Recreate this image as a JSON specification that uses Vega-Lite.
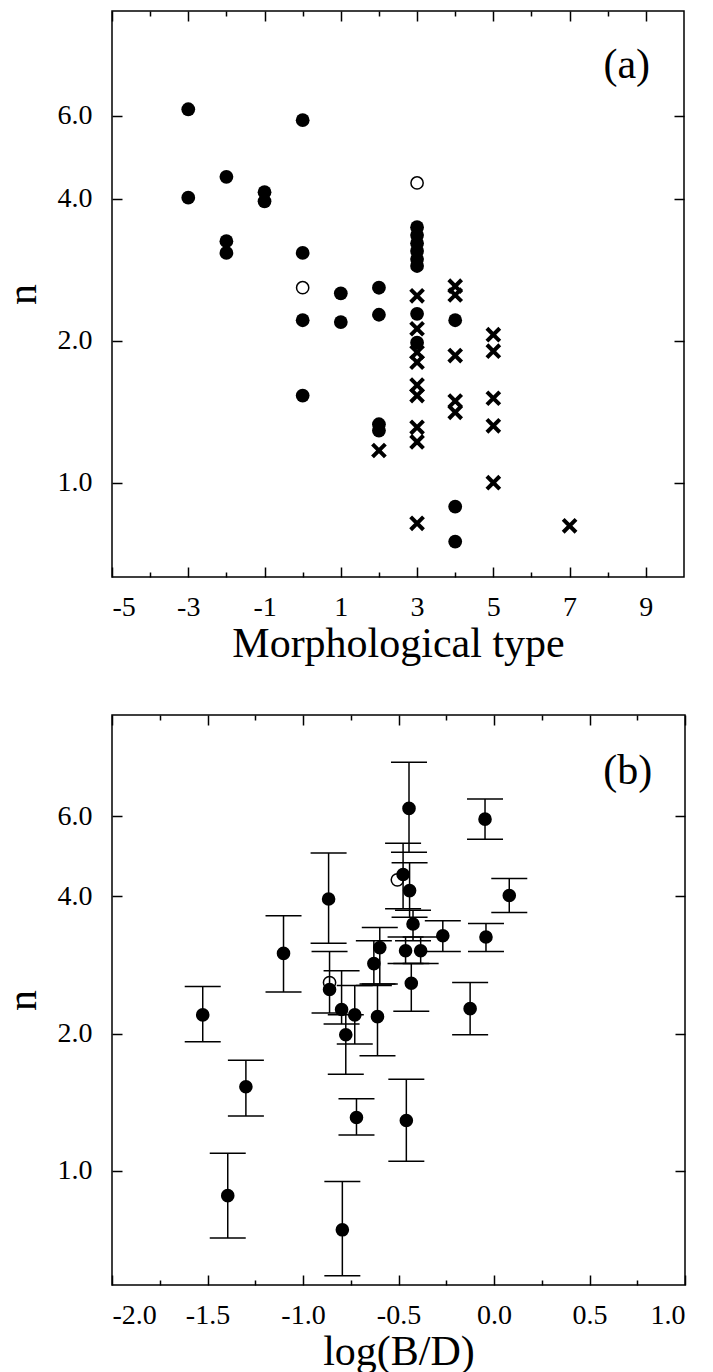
{
  "$schema": "https://vega.github.io/schema/vega-lite/v6.json",
  "padding": {"left": 0, "top": 9, "right": 5, "bottom": 0},
  "spacing": 48,
  "config": {
    "font": "Liberation Serif",
    "view": {"stroke": "black", "strokeWidth": 1.5},
    "locale": {"number": {"decimal": ".", "thousands": ",", "grouping": [3], "currency": ["$", ""], "minus": "-"}},
    "axis": {
      "domain": false,
      "grid": false,
      "tickColor": "black",
      "tickWidth": 1.5,
      "labelColor": "black",
      "labelFont": "Liberation Serif",
      "labelFontSize": 28,
      "titleFont": "Liberation Serif",
      "titleFontSize": 42,
      "titleFontWeight": "normal",
      "titleColor": "black"
    }
  },
  "datasets": {
    "a": [
      {"type": -3, "n": 6.19, "kind": "filled"},
      {"type": -3, "n": 4.02, "kind": "filled"},
      {"type": -2, "n": 4.45, "kind": "filled"},
      {"type": -2, "n": 3.25, "kind": "filled"},
      {"type": -2, "n": 3.07, "kind": "filled"},
      {"type": -1, "n": 4.13, "kind": "filled"},
      {"type": -1, "n": 3.95, "kind": "filled"},
      {"type": 0, "n": 5.87, "kind": "filled"},
      {"type": 0, "n": 3.07, "kind": "filled"},
      {"type": 0, "n": 2.21, "kind": "filled"},
      {"type": 0, "n": 1.53, "kind": "filled"},
      {"type": 1, "n": 2.52, "kind": "filled"},
      {"type": 1, "n": 2.19, "kind": "filled"},
      {"type": 2, "n": 2.59, "kind": "filled"},
      {"type": 2, "n": 2.27, "kind": "filled"},
      {"type": 2, "n": 1.33, "kind": "filled"},
      {"type": 2, "n": 1.29, "kind": "filled"},
      {"type": 3, "n": 3.48, "kind": "filled"},
      {"type": 3, "n": 3.35, "kind": "filled"},
      {"type": 3, "n": 3.22, "kind": "filled"},
      {"type": 3, "n": 3.10, "kind": "filled"},
      {"type": 3, "n": 2.98, "kind": "filled"},
      {"type": 3, "n": 2.88, "kind": "filled"},
      {"type": 3, "n": 2.28, "kind": "filled"},
      {"type": 3, "n": 1.98, "kind": "filled"},
      {"type": 4, "n": 2.21, "kind": "filled"},
      {"type": 4, "n": 0.89, "kind": "filled"},
      {"type": 4, "n": 0.75, "kind": "filled"},
      {"type": 0, "n": 2.59, "kind": "open"},
      {"type": 3, "n": 4.32, "kind": "open"},
      {"type": 2, "n": 1.17, "kind": "cross"},
      {"type": 3, "n": 2.49, "kind": "cross"},
      {"type": 3, "n": 2.12, "kind": "cross"},
      {"type": 3, "n": 1.89, "kind": "cross"},
      {"type": 3, "n": 1.80, "kind": "cross"},
      {"type": 3, "n": 1.61, "kind": "cross"},
      {"type": 3, "n": 1.53, "kind": "cross"},
      {"type": 3, "n": 1.31, "kind": "cross"},
      {"type": 3, "n": 1.22, "kind": "cross"},
      {"type": 3, "n": 0.82, "kind": "cross"},
      {"type": 4, "n": 2.61, "kind": "cross"},
      {"type": 4, "n": 2.50, "kind": "cross"},
      {"type": 4, "n": 1.86, "kind": "cross"},
      {"type": 4, "n": 1.49, "kind": "cross"},
      {"type": 4, "n": 1.41, "kind": "cross"},
      {"type": 5, "n": 2.06, "kind": "cross"},
      {"type": 5, "n": 1.90, "kind": "cross"},
      {"type": 5, "n": 1.51, "kind": "cross"},
      {"type": 5, "n": 1.32, "kind": "cross"},
      {"type": 5, "n": 1.00, "kind": "cross"},
      {"type": 7, "n": 0.81, "kind": "cross"}
    ],
    "b": [
      {"bd": -1.525, "n": 2.20, "lo": 1.92, "hi": 2.54, "kind": "filled"},
      {"bd": -1.299, "n": 1.53, "lo": 1.32, "hi": 1.75, "kind": "filled"},
      {"bd": -1.394, "n": 0.883, "lo": 0.713, "hi": 1.094, "kind": "filled"},
      {"bd": -0.794, "n": 0.743, "lo": 0.589, "hi": 0.948, "kind": "filled"},
      {"bd": -1.102, "n": 3.00, "lo": 2.47, "hi": 3.63, "kind": "filled"},
      {"bd": -0.866, "n": 3.95, "lo": 3.16, "hi": 4.98, "kind": "filled"},
      {"bd": -0.445, "n": 6.24, "lo": 5.00, "hi": 7.88, "kind": "filled"},
      {"bd": -0.047, "n": 5.91, "lo": 5.34, "hi": 6.54, "kind": "filled"},
      {"bd": 0.080, "n": 4.02, "lo": 3.69, "hi": 4.38, "kind": "filled"},
      {"bd": -0.042, "n": 3.26, "lo": 3.03, "hi": 3.49, "kind": "filled"},
      {"bd": -0.268, "n": 3.28, "lo": 3.03, "hi": 3.54, "kind": "filled"},
      {"bd": -0.125, "n": 2.27, "lo": 1.99, "hi": 2.59, "kind": "filled"},
      {"bd": -0.459, "n": 1.29, "lo": 1.05, "hi": 1.59, "kind": "filled"},
      {"bd": -0.861, "n": 2.50, "lo": 2.22, "hi": 3.03, "kind": "filled"},
      {"bd": -0.798, "n": 2.26, "lo": 2.10, "hi": 2.75, "kind": "filled"},
      {"bd": -0.729, "n": 2.20, "lo": 1.90, "hi": 2.55, "kind": "filled"},
      {"bd": -0.776, "n": 1.99, "lo": 1.63, "hi": 2.20, "kind": "filled"},
      {"bd": -0.720, "n": 1.31, "lo": 1.20, "hi": 1.44, "kind": "filled"},
      {"bd": -0.598, "n": 3.09, "lo": 2.57, "hi": 3.42, "kind": "filled"},
      {"bd": -0.629, "n": 2.85, "lo": 2.55, "hi": 3.20, "kind": "filled"},
      {"bd": -0.610, "n": 2.18, "lo": 1.79, "hi": 2.57, "kind": "filled"},
      {"bd": -0.476, "n": 4.47, "lo": 3.76, "hi": 5.23, "kind": "filled"},
      {"bd": -0.442, "n": 4.12, "lo": 3.60, "hi": 4.74, "kind": "filled"},
      {"bd": -0.424, "n": 3.48, "lo": 3.20, "hi": 3.73, "kind": "filled"},
      {"bd": -0.463, "n": 3.04, "lo": 2.85, "hi": 3.26, "kind": "filled"},
      {"bd": -0.384, "n": 3.04, "lo": 2.85, "hi": 3.26, "kind": "filled"},
      {"bd": -0.433, "n": 2.58, "lo": 2.24, "hi": 2.85, "kind": "filled"},
      {"bd": -0.506, "n": 4.35, "kind": "open"},
      {"bd": -0.861, "n": 2.59, "kind": "open"}
    ]
  },
  "vconcat": [
    {
      "width": 572,
      "height": 566,
      "resolve": {"axis": {"x": "independent", "y": "independent"}},
      "layer": [
        {
          "data": {"name": "a"},
          "transform": [{"filter": "datum.kind === 'filled'"}],
          "mark": {"type": "point", "shape": "circle", "filled": true, "color": "black", "opacity": 1, "size": 190},
          "encoding": {
            "x": {"field": "type", "type": "quantitative",
                  "scale": {"domain": [-5, 10], "nice": false, "zero": false},
                  "axis": {"orient": "bottom", "values": [-5, -3, -1, 1, 3, 5, 7, 9], "format": "d", "title": "Morphological type", "tickSize": -10, "labelPadding": 26, "titlePadding": 2}},
            "y": {"field": "n", "type": "quantitative",
                  "scale": {"type": "log", "domain": [0.631, 10], "nice": false},
                  "axis": {"orient": "left", "values": [1, 2, 4, 6], "format": ".1f", "title": "n", "tickSize": -10, "labelPadding": 30, "titlePadding": 13}}
          }
        },
        {
          "data": {"name": "a"},
          "transform": [{"filter": "datum.kind === 'open'"}],
          "mark": {"type": "point", "shape": "circle", "filled": false, "color": "black", "opacity": 1, "strokeWidth": 1.5, "size": 150},
          "encoding": {
            "x": {"field": "type", "type": "quantitative",
                  "axis": {"orient": "top", "values": [-5, -3, -1, 1, 3, 5, 7, 9], "labels": false, "title": null, "tickSize": -10}},
            "y": {"field": "n", "type": "quantitative",
                  "axis": {"orient": "right", "values": [1, 2, 4, 6], "labels": false, "title": null, "tickSize": -10}}
          }
        },
        {
          "data": {"name": "a"},
          "transform": [{"filter": "datum.kind === 'cross'"}],
          "mark": {"type": "point", "shape": "M-1,-1L1,1M1,-1L-1,1", "filled": false, "color": "black", "opacity": 1, "strokeWidth": 4, "size": 165},
          "encoding": {
            "x": {"field": "type", "type": "quantitative",
                  "axis": {"orient": "bottom", "values": [-4, -2, 0, 2, 4, 6, 8], "labels": false, "title": null, "tickSize": -5}},
            "y": {"field": "n", "type": "quantitative", "axis": null}
          }
        },
        {
          "data": {"values": [{"label": "(a)"}]},
          "mark": {"type": "text", "font": "Liberation Serif", "fontSize": 42, "color": "black", "align": "center", "baseline": "middle"},
          "encoding": {
            "text": {"field": "label"},
            "x": {"datum": 8.5, "type": "quantitative",
                  "axis": {"orient": "top", "values": [-4, -2, 0, 2, 4, 6, 8], "labels": false, "title": null, "tickSize": -5}},
            "y": {"datum": 7.7, "type": "quantitative", "axis": null}
          }
        }
      ]
    },
    {
      "width": 573,
      "height": 570,
      "resolve": {"axis": {"x": "independent", "y": "independent"}},
      "layer": [
        {
          "data": {"name": "b"},
          "transform": [{"filter": "datum.kind === 'filled'"}],
          "mark": {"type": "rule", "color": "black", "strokeWidth": 1.5},
          "encoding": {
            "x": {"field": "bd", "type": "quantitative",
                  "scale": {"domain": [-2, 1], "nice": false, "zero": false},
                  "axis": {"orient": "bottom", "values": [-2, -1.5, -1, -0.5, 0, 0.5, 1], "format": ".1f", "title": "log(B/D)", "tickSize": -10, "labelPadding": 26, "titlePadding": 2}},
            "y": {"field": "lo", "type": "quantitative",
                  "scale": {"type": "log", "domain": [0.5623, 10], "nice": false},
                  "axis": {"orient": "left", "values": [1, 2, 4, 6], "format": ".1f", "title": "n", "tickSize": -10, "labelPadding": 30, "titlePadding": 13}},
            "y2": {"field": "hi"}
          }
        },
        {
          "data": {"name": "b"},
          "transform": [{"filter": "datum.kind === 'filled'"}],
          "mark": {"type": "tick", "orient": "horizontal", "color": "black", "size": 36, "thickness": 1.5, "opacity": 1},
          "encoding": {
            "x": {"field": "bd", "type": "quantitative",
                  "axis": {"orient": "top", "values": [-2, -1.5, -1, -0.5, 0, 0.5, 1], "labels": false, "title": null, "tickSize": -10}},
            "y": {"field": "lo", "type": "quantitative",
                  "axis": {"orient": "right", "values": [1, 2, 4, 6], "labels": false, "title": null, "tickSize": -10}}
          }
        },
        {
          "data": {"name": "b"},
          "transform": [{"filter": "datum.kind === 'filled'"}],
          "mark": {"type": "tick", "orient": "horizontal", "color": "black", "size": 36, "thickness": 1.5, "opacity": 1},
          "encoding": {
            "x": {"field": "bd", "type": "quantitative",
                  "axis": {"orient": "bottom", "values": [-1.75, -1.25, -0.75, -0.25, 0.25, 0.75], "labels": false, "title": null, "tickSize": -5}},
            "y": {"field": "hi", "type": "quantitative", "axis": null}
          }
        },
        {
          "data": {"name": "b"},
          "transform": [{"filter": "datum.kind === 'filled'"}],
          "mark": {"type": "point", "shape": "circle", "filled": true, "color": "black", "opacity": 1, "size": 185},
          "encoding": {
            "x": {"field": "bd", "type": "quantitative",
                  "axis": {"orient": "top", "values": [-1.75, -1.25, -0.75, -0.25, 0.25, 0.75], "labels": false, "title": null, "tickSize": -5}},
            "y": {"field": "n", "type": "quantitative", "axis": null}
          }
        },
        {
          "data": {"name": "b"},
          "transform": [{"filter": "datum.kind === 'open'"}],
          "mark": {"type": "point", "shape": "circle", "filled": false, "color": "black", "opacity": 1, "strokeWidth": 1.5, "size": 150},
          "encoding": {
            "x": {"field": "bd", "type": "quantitative", "axis": null},
            "y": {"field": "n", "type": "quantitative", "axis": null}
          }
        },
        {
          "data": {"values": [{"label": "(b)"}]},
          "mark": {"type": "text", "font": "Liberation Serif", "fontSize": 42, "color": "black", "align": "center", "baseline": "middle"},
          "encoding": {
            "text": {"field": "label"},
            "x": {"datum": 0.7, "type": "quantitative", "axis": null},
            "y": {"datum": 7.52, "type": "quantitative", "axis": null}
          }
        }
      ]
    }
  ]
}
